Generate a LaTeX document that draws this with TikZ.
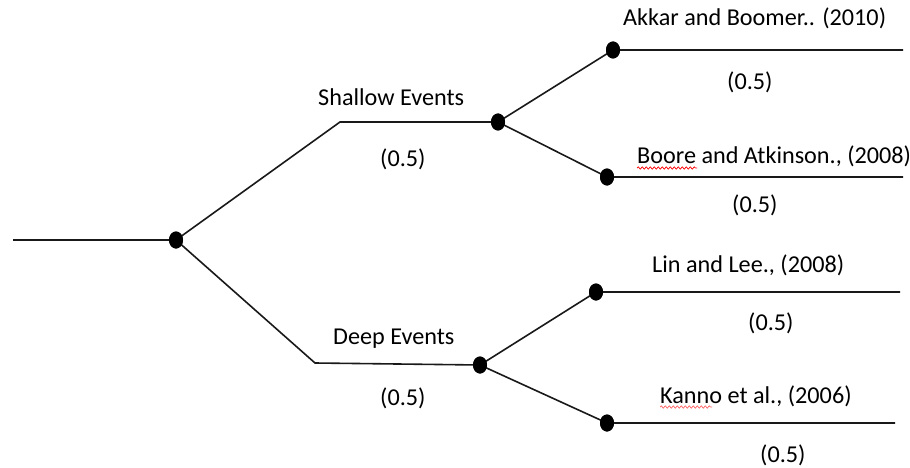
\documentclass[tikz,border=0pt]{standalone}
\usepackage{fontspec}
\setmainfont{Carlito}
\usetikzlibrary{shapes.geometric,decorations.pathmorphing}
\begin{document}
\begin{tikzpicture}[x=1pt,y=-1pt,
  dot/.style={ellipse,fill=black,inner sep=0pt,minimum width=14pt,minimum height=17pt},
  lbl/.style={anchor=base west,inner sep=0pt,font=\fontsize{24.2}{28}\selectfont},
  ln/.style={line width=1.6pt,black!90},
  spell/.style={red,line width=0.7pt,decorate,decoration={snake,amplitude=1.2pt,segment length=4pt}}]
\useasboundingbox (0,0) rectangle (910,468);
% points
\coordinate (start) at (13,240);
\node[dot] (root) at (176,240) {};
\coordinate (cs) at (340,122);
\node[dot] (sh) at (498,122) {};
\coordinate (cd) at (315,363);
\node[dot] (dp) at (480,365) {};
\node[dot] (ak) at (613,50) {};
\coordinate (akE) at (903,50);
\node[dot] (bo) at (607,177) {};
\coordinate (boE) at (903,177);
\node[dot] (li) at (596,292) {};
\coordinate (liE) at (900,292);
\node[dot] (ka) at (607,423) {};
\coordinate (kaE) at (895,423);
% lines
\draw[ln] (start) -- (root.center);
\draw[ln] (root.center) -- (cs) -- (sh.center);
\draw[ln] (root.center) -- (cd) -- (dp.center);
\draw[ln] (sh.center) -- (ak.center) -- (akE);
\draw[ln] (sh.center) -- (bo.center) -- (boE);
\draw[ln] (dp.center) -- (li.center) -- (liE);
\draw[ln] (dp.center) -- (ka.center) -- (kaE);
% redraw dots on top
\foreach \n in {root,sh,dp,ak,bo,li,ka} \fill (\n.center) ellipse (7pt and 8.5pt);
% labels
\node[lbl] (tsh) at (318,106) {Shallow Events};
\node[lbl] (psh) at (380,166) {(0.5)};
\node[lbl] (tdp) at (333,344) {Deep Events};
\node[lbl] (pdp) at (380,405) {(0.5)};
\node[lbl] (tak) at (623,26) {Akkar and Boomer.. (2010)};
\node[lbl] (pak) at (727,90) {(0.5)};
\node[lbl] (tbo) at (637,163) {Boore and Atkinson., (2008)};
\node[lbl] (pbo) at (732,212) {(0.5)};
\node[lbl] (tli) at (652,272) {Lin and Lee., (2008)};
\node[lbl] (pli) at (748,330) {(0.5)};
\node[lbl] (tka) at (660,403) {Kanno et al., (2006)};
\node[lbl] (pka) at (760,462) {(0.5)};
% spell-check marks
\coordinate (sb1) at (637,168);
\coordinate (sb2) at (697,168);
\coordinate (sk1) at (660,407);
\coordinate (sk2) at (712,407);
\draw[spell] (sb1) -- (sb2);
\draw[spell,red!60] (sk1) -- (sk2);
\end{tikzpicture}
\end{document}
